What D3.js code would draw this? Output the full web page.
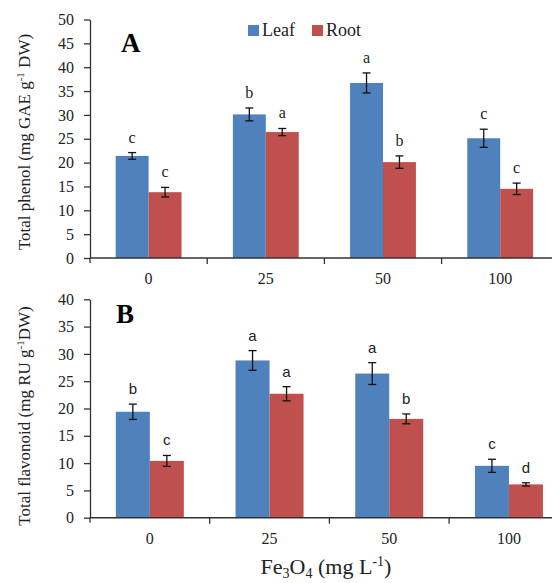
<!DOCTYPE html>
<html>
<head>
<meta charset="UTF-8">
<script src="https://d3js.org/d3.v7.min.js"></script>
<style>
  body { margin: 0; background: #fff; }
  svg { display: block; }
  .serif { font-family: "Liberation Serif", "Times New Roman", serif; }
  .sans { font-family: "Liberation Sans", Arial, sans-serif; }
</style>
</head>
<body>
<svg width="552" height="583"></svg>
<script>
// Fe3O4 doses (mg/L)
const doses = ["0", "25", "50", "100"];
const seriesNames = ["Leaf", "Root"];
const seriesColors = ["#4F81BD", "#C0504D"];

// panel A - total phenol
const phenolLeaf = [21.4, 30.1, 36.7, 25.1];
const phenolLeafErr = [0.7, 1.35, 2.1, 1.9];
const phenolRoot = [13.8, 26.4, 20.1, 14.5];
const phenolRootErr = [1.0, 0.75, 1.3, 1.2];
const phenolLeafLetters = ["c", "b", "a", "c"];
const phenolRootLetters = ["c", "a", "b", "c"];
const phenolTicks = [0, 5, 10, 15, 20, 25, 30, 35, 40, 45, 50];

// panel B - total flavonoid
const flavLeaf = [19.4, 28.8, 26.4, 9.5];
const flavLeafErr = [1.4, 1.8, 2.0, 1.2];
const flavRoot = [10.4, 22.7, 18.1, 6.1];
const flavRootErr = [1.0, 1.3, 0.9, 0.3];
const flavLeafLetters = ["b", "a", "a", "c"];
const flavRootLetters = ["c", "a", "b", "d"];
const flavTicks = [0, 5, 10, 15, 20, 25, 30, 35, 40];

const svg = d3.select("svg");
const axisColor = "#333";

function panel(opt) {
    const g = svg.append("g");
    const x = d3.scaleBand().domain(doses).range([90, 90 + opt.step * 4]);
    const xs = d3.scaleBand().domain(seriesNames).range([0, x.bandwidth()])
        .paddingInner(0).paddingOuter(opt.outer);
    const y = d3.scaleLinear().domain([0, opt.max]).range([opt.bottom, opt.top]);

    const rows = doses.map((d, i) => ({
        dose: d,
        vals: [
            { s: "Leaf", v: opt.leaf[i], e: opt.leafErr[i], l: opt.leafLet[i] },
            { s: "Root", v: opt.root[i], e: opt.rootErr[i], l: opt.rootLet[i] }
        ]
    }));

    const grp = g.selectAll(".grp").data(rows).join("g")
        .attr("transform", d => `translate(${x(d.dose)},0)`);

    grp.selectAll("rect").data(d => d.vals).join("rect")
        .attr("x", d => xs(d.s))
        .attr("width", xs.bandwidth())
        .attr("y", d => y(d.v))
        .attr("height", d => y(0) - y(d.v))
        .attr("fill", (d, i) => seriesColors[i]);

    // error bars
    const eb = grp.selectAll(".eb").data(d => d.vals).join("g")
        .attr("transform", d => `translate(${xs(d.s) + xs.bandwidth() / 2},0)`)
        .attr("stroke", "#111").attr("stroke-width", 1.3);
    eb.append("line").attr("y1", d => y(d.v - d.e)).attr("y2", d => y(d.v + d.e));
    eb.append("line").attr("x1", -4).attr("x2", 4).attr("y1", d => y(d.v + d.e)).attr("y2", d => y(d.v + d.e));
    eb.append("line").attr("x1", -4).attr("x2", 4).attr("y1", d => y(d.v - d.e)).attr("y2", d => y(d.v - d.e));

    // significance letters
    grp.selectAll(".let").data(d => d.vals).join("text")
        .attr("class", opt.letterClass)
        .attr("x", d => xs(d.s) + xs.bandwidth() / 2)
        .attr("y", d => y(d.v + d.e) - 10)
        .attr("text-anchor", "middle")
        .attr("font-size", opt.letterSize)
        .attr("fill", "#222")
        .text(d => d.l);

    // y axis
    const ya = g.append("g").attr("transform", "translate(90,0)")
        .call(d3.axisLeft(y).tickValues(opt.ticks).tickSize(6).tickSizeOuter(0).tickPadding(10));
    ya.select(".domain").attr("stroke", axisColor).attr("stroke-width", 1.3);
    ya.selectAll(".tick line").attr("stroke", axisColor).attr("stroke-width", 1.3);
    ya.selectAll("text").attr("class", "serif").attr("font-size", 16).attr("fill", "#222");
    ya.append("line").attr("y1", y(0)).attr("y2", y(0) + 5).attr("stroke", axisColor).attr("stroke-width", 1.3);

    // x axis
    g.append("line").attr("x1", 90).attr("x2", 560).attr("y1", y(0)).attr("y2", y(0))
        .attr("stroke", axisColor).attr("stroke-width", 1.5);
    g.selectAll(".xt").data(doses.slice(1)).join("line")
        .attr("x1", d => x(d)).attr("x2", d => x(d))
        .attr("y1", y(0)).attr("y2", y(0) + 6)
        .attr("stroke", axisColor).attr("stroke-width", 1.3);
    g.selectAll(".xl").data(doses).join("text")
        .attr("class", "serif")
        .attr("x", d => x(d) + x.bandwidth() / 2)
        .attr("y", y(0) + 26)
        .attr("text-anchor", "middle")
        .attr("font-size", 16).attr("fill", "#222")
        .text(d => d);

    // panel letter
    g.append("text").attr("class", "serif")
        .attr("x", opt.tagX).attr("y", opt.tagY)
        .attr("font-size", 27).attr("font-weight", "bold")
        .text(opt.tag);

    // y title
    const yt = g.append("text").attr("class", "serif")
        .attr("transform", `translate(30,${opt.titleY}) rotate(-90)`)
        .attr("text-anchor", "middle")
        .attr("font-size", 17).attr("fill", "#222");
    opt.title(yt);
}

panel({
    step: 117.2, outer: 0.78, max: 50, top: 19.5, bottom: 258,
    leaf: phenolLeaf, leafErr: phenolLeafErr, root: phenolRoot, rootErr: phenolRootErr,
    leafLet: phenolLeafLetters, rootLet: phenolRootLetters,
    ticks: phenolTicks, letterClass: "serif", letterSize: 16,
    tag: "A", tagX: 121, tagY: 52, titleY: 142,
    title: t => {
        t.append("tspan").text("Total phenol (mg GAE g");
        t.append("tspan").attr("font-size", 11).attr("dy", -6).text("-1");
        t.append("tspan").attr("dy", 6).text(" DW)");
    }
});

panel({
    step: 119.7, outer: 0.76, max: 40, top: 299.3, bottom: 517.7,
    leaf: flavLeaf, leafErr: flavLeafErr, root: flavRoot, rootErr: flavRootErr,
    leafLet: flavLeafLetters, rootLet: flavRootLetters,
    ticks: flavTicks, letterClass: "sans", letterSize: 15,
    tag: "B", tagX: 116, tagY: 323, titleY: 416,
    title: t => {
        t.append("tspan").text("Total flavonoid  (mg RU g");
        t.append("tspan").attr("font-size", 11).attr("dy", -6).text("-1");
        t.append("tspan").attr("dy", 6).text("DW)");
    }
});

// legend
const leg = svg.append("g").attr("transform", "translate(248,25)");
seriesNames.forEach((s, i) => {
    const lg = leg.append("g").attr("transform", `translate(${i * 64},0)`);
    lg.append("rect").attr("width", 11).attr("height", 11).attr("fill", seriesColors[i]);
    lg.append("text").attr("class", "serif").attr("x", 14).attr("y", 11)
        .attr("font-size", 18).attr("fill", "#222").text(s);
});

// x axis title
const xt = svg.append("text").attr("class", "serif")
    .attr("x", 326).attr("y", 574).attr("text-anchor", "middle")
    .attr("font-size", 22).attr("fill", "#222");
xt.append("tspan").text("Fe");
xt.append("tspan").attr("font-size", 14).attr("dy", 4).text("3");
xt.append("tspan").attr("dy", -4).text("O");
xt.append("tspan").attr("font-size", 14).attr("dy", 4).text("4");
xt.append("tspan").attr("dy", -4).text(" (mg L");
xt.append("tspan").attr("font-size", 14).attr("dy", -8).text("-1");
xt.append("tspan").attr("dy", 8).text(")");
</script>
</body>
</html>
